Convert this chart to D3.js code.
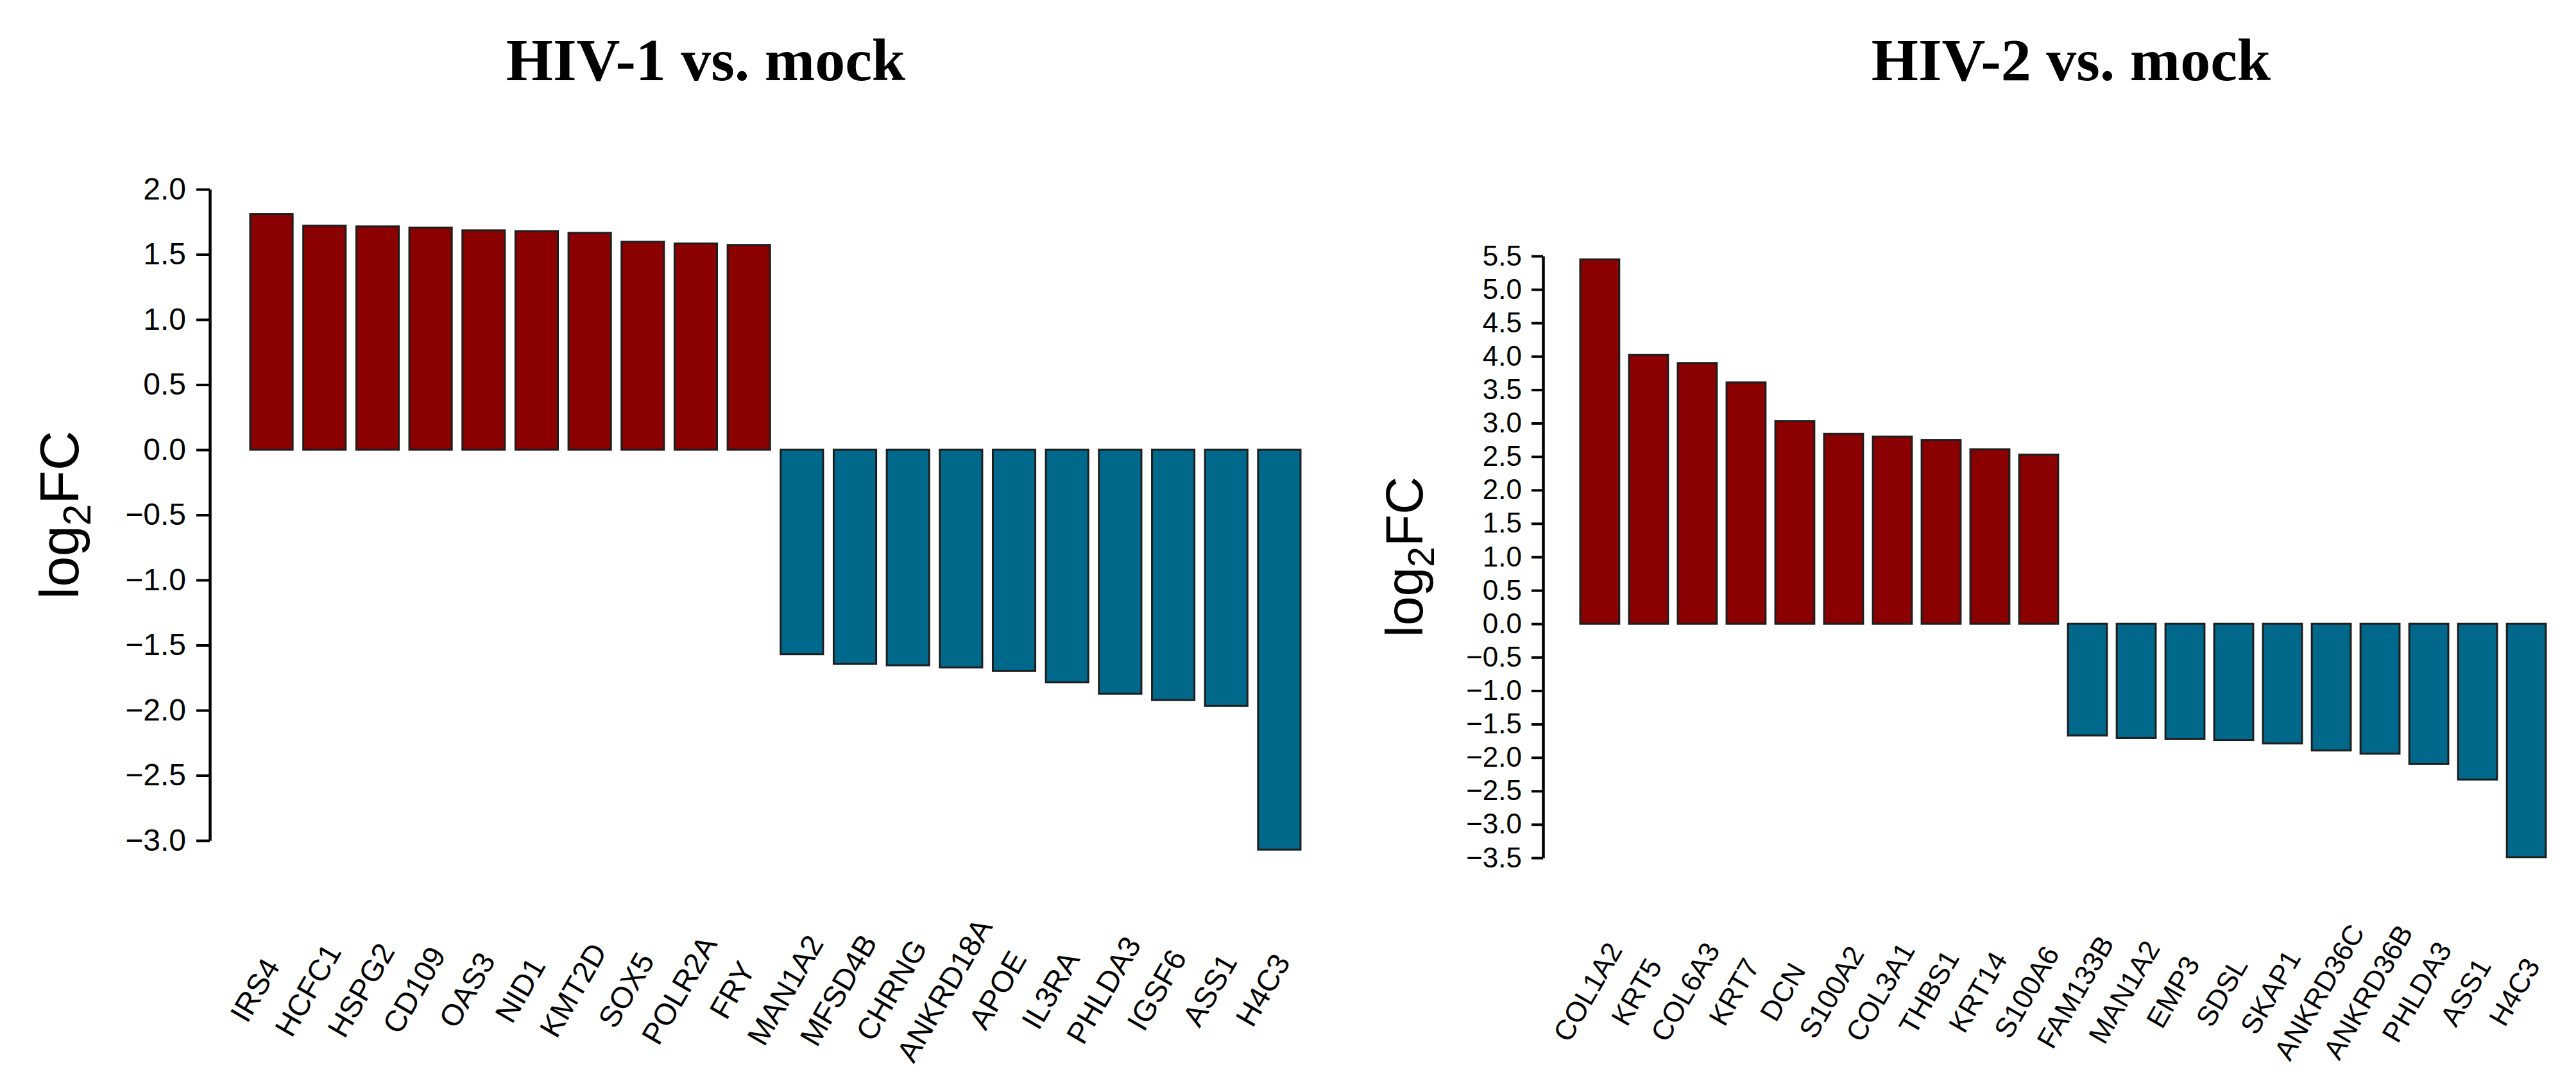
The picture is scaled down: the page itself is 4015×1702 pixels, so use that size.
<!DOCTYPE html>
<html>
<head>
<meta charset="utf-8">
<script src="https://cdn.jsdelivr.net/npm/d3@7"></script>
<style>
  html, body { margin: 0; padding: 0; background: #ffffff; }
  svg { display: block; }
</style>
</head>
<body>
<svg id="chart" width="4015" height="1702"></svg>
<script>
// ---------------- DATA ----------------
const genes1 = ["IRS4","HCFC1","HSPG2","CD109","OAS3","NID1","KMT2D","SOX5","POLR2A","FRY",
                "MAN1A2","MFSD4B","CHRNG","ANKRD18A","APOE","IL3RA","PHLDA3","IGSF6","ASS1","H4C3"];
const values1 = [1.81, 1.72, 1.715, 1.705, 1.685, 1.678, 1.665, 1.597, 1.584, 1.573,
                 -1.57, -1.643, -1.655, -1.671, -1.697, -1.786, -1.873, -1.922, -1.967, -3.07];

const genes2 = ["COL1A2","KRT5","COL6A3","KRT7","DCN","S100A2","COL3A1","THBS1","KRT14","S100A6",
                "FAM133B","MAN1A2","EMP3","SDSL","SKAP1","ANKRD36C","ANKRD36B","PHLDA3","ASS1","H4C3"];
const values2 = [5.45, 4.02, 3.90, 3.61, 3.03, 2.84, 2.80, 2.75, 2.61, 2.53,
                 -1.67, -1.71, -1.72, -1.74, -1.79, -1.895, -1.943, -2.094, -2.33, -3.49];

const ticks1 = [2.0, 1.5, 1.0, 0.5, 0.0, -0.5, -1.0, -1.5, -2.0, -2.5, -3.0];
const ticks2 = [5.5, 5.0, 4.5, 4.0, 3.5, 3.0, 2.5, 2.0, 1.5, 1.0, 0.5, 0.0,
                -0.5, -1.0, -1.5, -2.0, -2.5, -3.0, -3.5];

const titles = ["HIV-1 vs. mock", "HIV-2 vs. mock"];

// ---------------- STYLE ----------------
const UP = "#8B0000", DOWN = "#00688B";
const svg = d3.select("#chart");
svg.append("rect").attr("width", 4015).attr("height", 1702).attr("fill", "#fff");

function panel(cfg) {
  const g = svg.append("g");
  const x = d3.scaleBand().domain(cfg.genes).range(cfg.xRange).paddingInner(0.2).paddingOuter(0);
  const y = d3.scaleLinear().domain(cfg.yDomain).range(cfg.yRange);

  // bars
  g.selectAll("rect.bar").data(cfg.genes.map((d, i) => ({g: d, v: cfg.values[i]})))
    .join("rect").attr("class", "bar")
    .attr("x", d => x(d.g))
    .attr("width", x.bandwidth())
    .attr("y", d => y(Math.max(0, d.v)))
    .attr("height", d => Math.abs(y(d.v) - y(0)))
    .attr("fill", d => d.v >= 0 ? UP : DOWN)
    .attr("stroke", "#1e1e1e")
    .attr("stroke-width", 3);

  // y axis
  const ax = d3.axisLeft(y).tickValues(cfg.ticks)
    .tickSize(cfg.tickLen).tickSizeOuter(0).tickPadding(cfg.tickPad)
    .tickFormat(d3.format(".1f"));
  const ag = g.append("g").attr("transform", `translate(${cfg.axisX},0)`).call(ax);
  ag.select(".domain").attr("stroke", "#000").attr("stroke-width", 4.5);
  ag.selectAll(".tick line").attr("stroke", "#000").attr("stroke-width", 4);
  ag.selectAll(".tick text")
    .attr("font-family", "'Liberation Sans', Arial, Helvetica, sans-serif")
    .attr("font-size", cfg.tickFont).attr("fill", "#000");

  // x labels
  g.selectAll("text.xl").data(cfg.genes).join("text").attr("class", "xl")
    .attr("transform", d => `translate(${x(d) + x.bandwidth() / 2 + cfg.labOff},${cfg.labY}) rotate(-60)`)
    .attr("text-anchor", "middle")
    .attr("dominant-baseline", "central")
    .attr("font-family", "'Liberation Sans', Arial, Helvetica, sans-serif")
    .attr("font-size", cfg.labFont)
    .attr("fill", "#000")
    .text(d => d);

  // y label  log2FC
  const yc = (cfg.yRange[0] + cfg.yRange[1]) / 2;
  const yl = g.append("text")
    .attr("transform", `translate(${cfg.ylabX},${yc}) rotate(-90)`)
    .attr("text-anchor", "middle")
    .attr("font-family", "'Liberation Sans', Arial, Helvetica, sans-serif")
    .attr("font-size", cfg.ylabFont).attr("fill", "#000");
  yl.append("tspan").text("log");
  yl.append("tspan").attr("dy", cfg.ylabFont * 0.22).attr("font-size", cfg.ylabFont * 0.7).text("2");
  yl.append("tspan").attr("dy", -cfg.ylabFont * 0.22).text("FC");

  // title
  g.append("text")
    .attr("x", cfg.titleX).attr("y", 125)
    .attr("text-anchor", "middle")
    .attr("font-family", "'Liberation Serif', 'Times New Roman', serif")
    .attr("font-weight", "bold")
    .attr("font-size", 94).attr("fill", "#000")
    .text(cfg.title);
}

panel({
  genes: genes1, values: values1, ticks: ticks1, title: titles[0],
  xRange: [390, 2027], yDomain: [-3, 2], yRange: [1310, 295],
  axisX: 327, tickLen: 21, tickPad: 16, tickFont: 48,
  labOff: -26, labY: 1543, labFont: 47,
  ylabX: 122, ylabFont: 86, titleX: 1100
});

panel({
  genes: genes2, values: values2, ticks: ticks2, title: titles[1],
  xRange: [2463, 3968], yDomain: [-3.5, 5.5], yRange: [1337, 399],
  axisX: 2405, tickLen: 18, tickPad: 15, tickFont: 44,
  labOff: -19, labY: 1546, labFont: 44,
  ylabX: 2217, ylabFont: 82, titleX: 3228
});
</script>
</body>
</html>
